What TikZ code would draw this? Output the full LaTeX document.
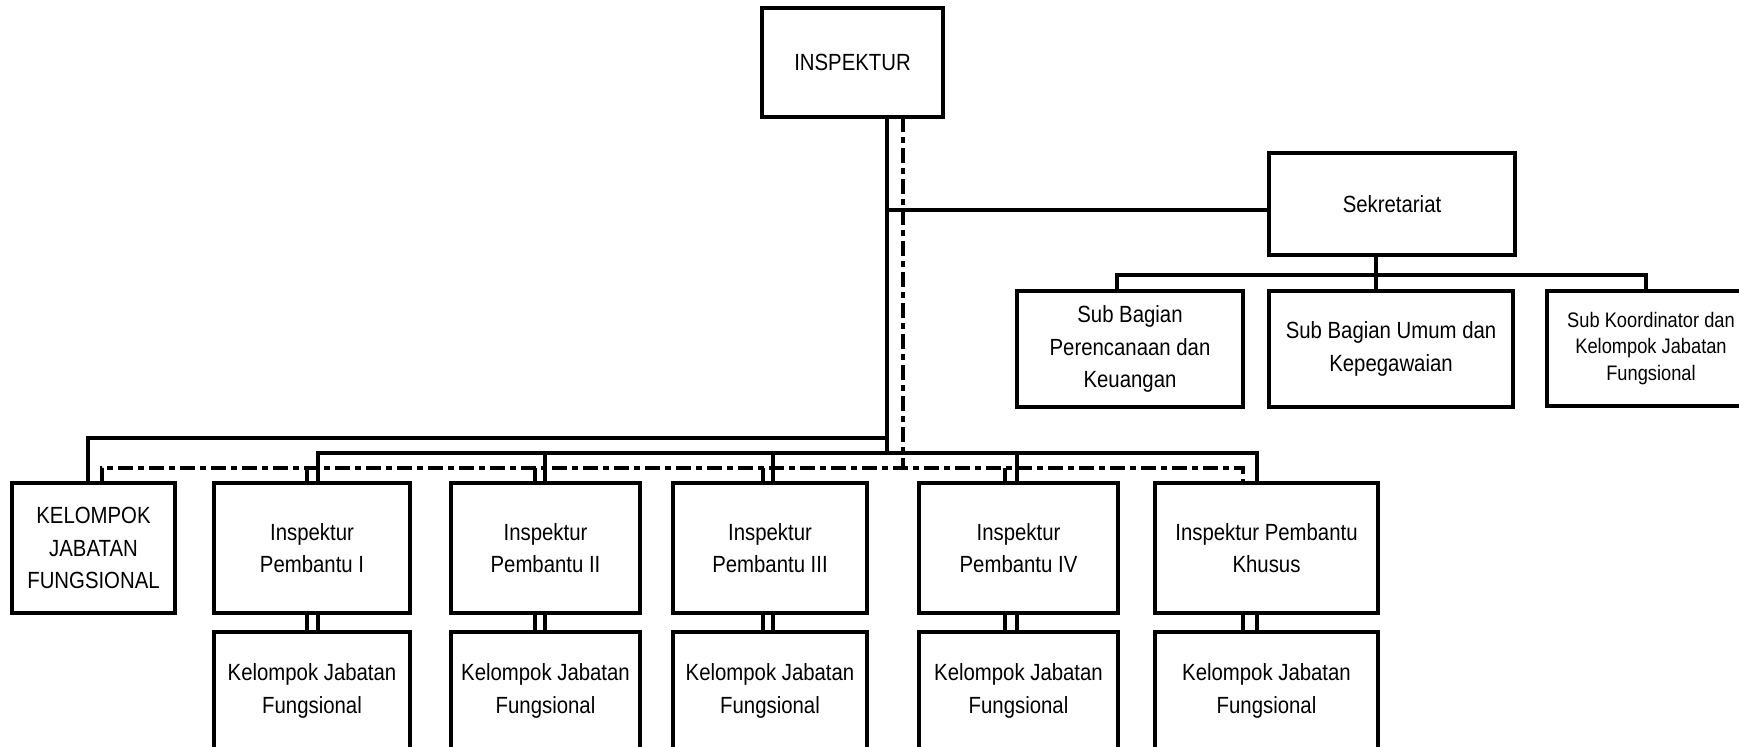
\documentclass[tikz,border=0pt]{standalone}
\usepackage{fontspec}
\setmainfont{Liberation Sans}[FakeStretch=0.87]
\newcommand{\orgbox}[7]{%
  \node[box,#6,minimum width={(#3-#1)*0.5pt},minimum height={(#4-#2)*0.5pt}] (#5) at ({(#1+#3)/2},{(#2+#4)/2}) {#7};}
\begin{document}
\begin{tikzpicture}[x=0.5pt,y=-0.5pt,
  box/.style={draw,line width=1.7pt,inner sep=0pt,outer sep=0pt,align=center,
    font=\fontsize{11.7}{16.2}\selectfont},
  smallbox/.style={font=\fontsize{10.5}{13.25}\selectfont},
  conn/.style={line width=2.2pt},
  dd/.style={line width=2.2pt,dash pattern=on 7.5pt off 2.5pt on 3pt off 2.5pt}]
\useasboundingbox (0,0) rectangle (1739,746);

% top level
\orgbox{762}{8}{943}{117}{insp}{}{INSPEKTUR}
\orgbox{1269}{153}{1515}{255}{sek}{}{Sekretariat}
\orgbox{1017}{291}{1243}{407}{sba}{}{Sub Bagian\\Perencanaan dan\\Keuangan}
\orgbox{1269}{291}{1513}{407}{sbb}{}{Sub Bagian Umum dan\\Kepegawaian}
\orgbox{1547}{291}{1755}{406}{sbc}{smallbox}{Sub Koordinator dan\\Kelompok Jabatan\\Fungsional}

% second row
\orgbox{12}{483}{175}{613}{kjf}{}{KELOMPOK\\JABATAN\\FUNGSIONAL}
\orgbox{214}{483}{410}{613}{ipa}{}{Inspektur\\Pembantu I}
\orgbox{451}{483}{640}{613}{ipb}{}{Inspektur\\Pembantu II}
\orgbox{673}{483}{867}{613}{ipc}{}{Inspektur\\Pembantu III}
\orgbox{919}{483}{1118}{613}{ipd}{}{Inspektur\\Pembantu IV}
\orgbox{1155}{483}{1378}{613}{ipk}{}{Inspektur Pembantu\\Khusus}

% third row
\orgbox{214}{632}{410}{750}{kja}{}{Kelompok Jabatan\\Fungsional}
\orgbox{451}{632}{640}{750}{kjb}{}{Kelompok Jabatan\\Fungsional}
\orgbox{673}{632}{867}{750}{kjc}{}{Kelompok Jabatan\\Fungsional}
\orgbox{919}{632}{1118}{750}{kjd}{}{Kelompok Jabatan\\Fungsional}
\orgbox{1155}{632}{1378}{750}{kjk}{}{Kelompok Jabatan\\Fungsional}

% junction coordinates
\coordinate (tS) at (887,453);
\coordinate (tD) at (903,468);
\coordinate (tSek) at (887,210);
\coordinate (oS) at (887,438);
\coordinate (oL) at (88,438);
\coordinate (sbA) at (1117,275);
\coordinate (sbB) at (1376,275);
\coordinate (sbC) at (1646,275);
\coordinate (bSa) at (318,453);
\coordinate (bSb) at (545,453);
\coordinate (bSc) at (773,453);
\coordinate (bSd) at (1017,453);
\coordinate (bSk) at (1257,453);
\coordinate (dD0) at (102,468);
\coordinate (dDa) at (307,468);
\coordinate (dDb) at (535,468);
\coordinate (dDc) at (763,468);
\coordinate (dDd) at (1005,468);
\coordinate (dDk) at (1243,468);

% trunk
\draw[conn] (insp.south -| tS) -- (tS);
\draw[dd] (insp.south -| tD) -- (tD);
\draw[conn] (tSek) -- (tSek -| sek.west);

% sekretariat branch
\draw[conn] (sek.south -| sbB) -- (sbb.north -| sbB);
\draw[conn] (sba.north -| sbA) -- (sbA) -- (sbC) -- (sbc.north -| sbC);

% solid lines to second row
\draw[conn] (oS) -- (oL) -- (kjf.north -| oL);
\draw[conn] (ipa.north -| bSa) -- (bSa) -- (bSk) -- (ipk.north -| bSk);
\draw[conn] (bSb) -- (ipb.north -| bSb);
\draw[conn] (bSc) -- (ipc.north -| bSc);
\draw[conn] (bSd) -- (ipd.north -| bSd);

% dash-dot lines to second row
\draw[dd] (kjf.north -| dD0) -- (dD0) -- (dDk) -- (ipk.north -| dDk);
\draw[dd] (dDa) -- (ipa.north -| dDa);
\draw[dd] (dDb) -- (ipb.north -| dDb);
\draw[dd] (dDc) -- (ipc.north -| dDc);
\draw[dd] (dDd) -- (ipd.north -| dDd);

% second to third row (double links)
\foreach \u/\l/\s/\d in {ipa/kja/bSa/dDa, ipb/kjb/bSb/dDb, ipc/kjc/bSc/dDc, ipd/kjd/bSd/dDd, ipk/kjk/bSk/dDk}{
  \draw[conn] (\u.south -| \s) -- (\l.north -| \s);
  \draw[conn] (\u.south -| \d) -- (\l.north -| \d);
}
\end{tikzpicture}
\end{document}
